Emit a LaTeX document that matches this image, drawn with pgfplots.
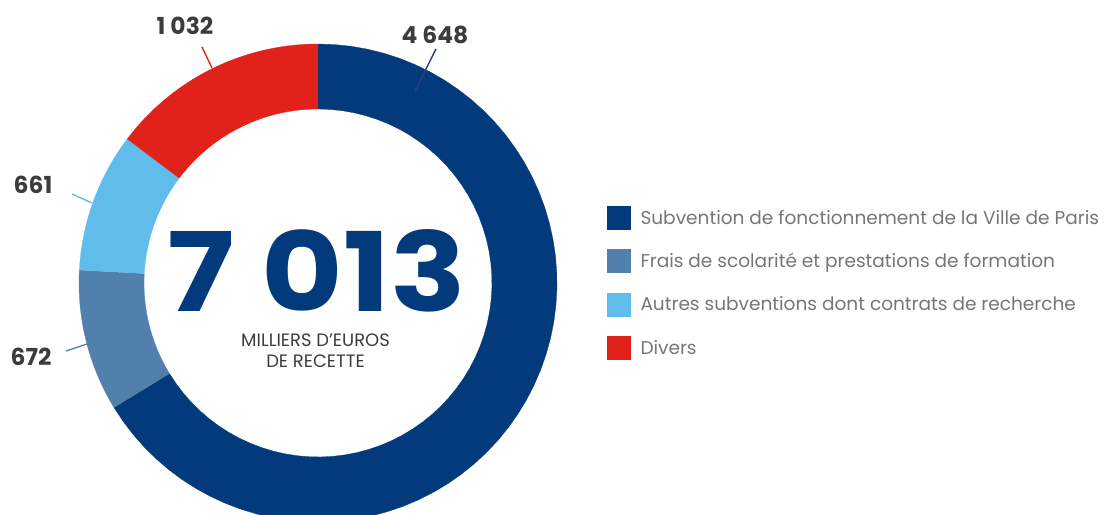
\documentclass[border=0pt]{standalone}
\usepackage{pgfplots}
\pgfplotsset{compat=1.18}
\usepackage{pgfplotstable}
\usepackage{graphicx}
\usepackage{fontspec}
\setmainfont{Poppins}

\definecolor{cdark}{HTML}{033A7C}
\definecolor{cmed}{HTML}{5180AD}
\definecolor{clight}{HTML}{5FBCEB}
\definecolor{cred}{HTML}{E1221A}
\definecolor{leaddark}{HTML}{2E3F7F}
\definecolor{labelgray}{HTML}{3C3C3C}
\definecolor{legendgray}{HTML}{767676}

% recettes, milliers d'euros
\pgfplotstableread{
poste value
subvention 4648
frais 672
autres 661
divers 1032
}\recettes

% annular sector: colour, start angle, end angle (centre 318,232; radii 239/174)
\newcommand\ring[3]{%
  \addplot[fill=#1, draw=#1, line width=0.3bp, samples at={0,1,...,121}, variable=\t]
    ({318+ifthenelse(\t<60.5,239,174)*cos((#2)+((#3)-(#2))*ifthenelse(\t<60.5,\t,121-\t)/60)},
     {232+ifthenelse(\t<60.5,239,174)*sin((#2)+((#3)-(#2))*ifthenelse(\t<60.5,\t,121-\t)/60)});
}

\begin{document}
\begin{tikzpicture}
\pgfplotstablegetelem{0}{value}\of\recettes \pgfmathsetmacro\va{\pgfplotsretval/1000}
\pgfplotstablegetelem{1}{value}\of\recettes \pgfmathsetmacro\vb{\pgfplotsretval/1000}
\pgfplotstablegetelem{2}{value}\of\recettes \pgfmathsetmacro\vc{\pgfplotsretval/1000}
\pgfplotstablegetelem{3}{value}\of\recettes \pgfmathsetmacro\vd{\pgfplotsretval/1000}
\pgfmathsetmacro\tot{\va+\vb+\vc+\vd}
\pgfmathsetmacro\aA{90}
\pgfmathsetmacro\aB{\aA-360*(\va/\tot)}
\pgfmathsetmacro\aC{\aB-360*(\vb/\tot)}
\pgfmathsetmacro\aD{\aC-360*(\vc/\tot)}
\pgfmathsetmacro\aE{\aD-360*(\vd/\tot)}
\begin{axis}[
    width=1104bp, height=515bp, scale only axis,
    xmin=0, xmax=1104, ymin=0, ymax=515,
    hide axis, clip=true,
    legend cell align=left,
    legend style={draw=none, fill=none, at={(axis cs:607,309)}, anchor=north west,
        inner sep=0pt, row sep=20bp, column sep=8bp,
        font=\fontsize{18.6}{20}\selectfont, text=legendgray},
    legend image code/.code={\fill[#1] (0bp,-11.5bp) rectangle (23bp,11.5bp);},
]
\ring{cdark}{\aA}{\aB}
\addlegendentry{Subvention de fonctionnement de la Ville de Paris}
\ring{cmed}{\aB}{\aC}
\addlegendentry{Frais de scolarité et prestations de formation}
\ring{clight}{\aC}{\aD}
\addlegendentry{Autres subventions dont contrats de recherche}
\ring{cred}{\aD}{\aE}
\addlegendentry{Divers}

% leader lines
\addplot[leaddark, line width=1.4bp, forget plot] coordinates {(436,466) (415,424)};
\addplot[cred, line width=1.4bp, forget plot] coordinates {(202,468) (212,447)};
\addplot[clight, line width=1.4bp, forget plot] coordinates {(72,321) (92,312)};
\addplot[cmed, line width=1.4bp, forget plot] coordinates {(66,164) (87,171)};

\node[text=labelgray, font=\fontsize{23.5}{25}\selectfont\bfseries] at (axis cs:435,480) {4 648};
\node[text=labelgray, font=\fontsize{23.5}{25}\selectfont\bfseries] at (axis cs:185,489) {1 032};
\node[text=labelgray, font=\fontsize{23.5}{25}\selectfont\bfseries] at (axis cs:33,330) {661};
\node[text=labelgray, font=\fontsize{23.5}{25}\selectfont\bfseries] at (axis cs:31,158) {672};

\node[text=cdark, inner sep=0pt] at (axis cs:317,244) {\resizebox{298bp}{82bp}{\bfseries 7 013}};
\node[text=labelgray, font=\fontsize{18}{21.5}\selectfont, inner sep=0pt, align=center]
    at (axis cs:315.5,164) {MILLIERS D’EUROS\\DE RECETTE};
\end{axis}
\pgfresetboundingbox
\useasboundingbox (current axis.south west) rectangle (current axis.north east);
\end{tikzpicture}
\end{document}
